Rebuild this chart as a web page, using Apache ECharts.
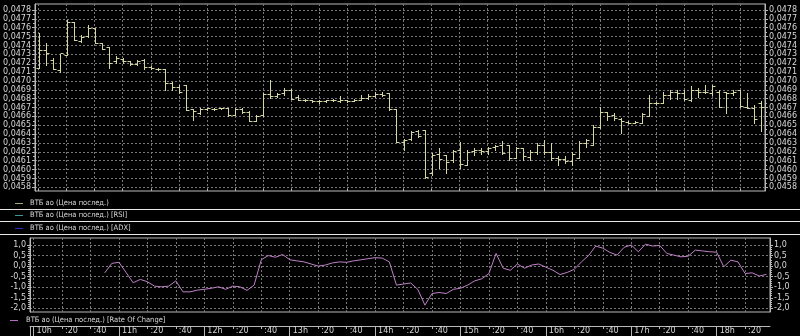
<!DOCTYPE html>
<html><head><meta charset="utf-8">
<script src="https://cdn.jsdelivr.net/npm/echarts@6/dist/echarts.min.js"></script>
<style>html,body{margin:0;padding:0;background:#000;}#c{width:800px;height:336px;}</style>
</head><body><div id="c"></div>
<script>
const times = ['10:00','10:05','10:10','10:15','10:20','10:25','10:30','10:35','10:40','10:45','10:50','10:55',
'11:00','11:05','11:10','11:15','11:20','11:25','11:30','11:35','11:40','11:45','11:50','11:55',
'12:00','12:05','12:10','12:15','12:20','12:25','12:30','12:35','12:40','12:45','12:50','12:55',
'13:00','13:05','13:10','13:15','13:20','13:25','13:30','13:35','13:40','13:45','13:50','13:55',
'14:00','14:05','14:10','14:15','14:20','14:25','14:30','14:35','14:40','14:45','14:50','14:55',
'15:00','15:05','15:10','15:15','15:20','15:25','15:30','15:35','15:40','15:45','15:50','15:55',
'16:00','16:05','16:10','16:15','16:20','16:25','16:30','16:35','16:40','16:45','16:50','16:55',
'17:00','17:05','17:10','17:15','17:20','17:25','17:30','17:35','17:40','17:45','17:50','17:55',
'18:00','18:05','18:10','18:15','18:20','18:25','18:30','18:35'];

const openP = [.04715,.04735,.04724,.04712,.04729,.04766,.04745,.04751,.04760,.04743,
.04738,.04722,.04725,.04722,.04719,.04724,.04716,.04714,.04713,.04698,
.04693,.04695,.04668,.04664,.04668,.04668,.04669,.04669,.04662,.04668,
.04665,.04655,.04661,.04685,.04683,.04686,.04690,.04682,.04679,.04678,
.04677,.04677,.04678,.04677,.04678,.04677,.04679,.04681,.04683,.04685,
.04686,.04668,.04631,.04634,.04643,.04645,.04596,.04618,.04617,.04611,
.04622,.04605,.04621,.04622,.04621,.04625,.04628,.04628,.04613,.04624,
.04614,.04620,.04628,.04620,.04613,.04612,.04610,.04613,.04630,.04628,
.04648,.04665,.04662,.04657,.04654,.04653,.04653,.04660,.04675,.04675,
.04684,.04687,.04686,.04678,.04690,.04688,.04686,.04688,.04688,.04686,
.04690,.04671,.04670,.04675];
const highP = [.04754,.04743,.04726,.04730,.04769,.04766,.04752,.04763,.04760,.04743,
.04738,.04728,.04726,.04722,.04724,.04725,.04717,.04715,.04713,.04699,
.04695,.04695,.04668,.04670,.04670,.04669,.04670,.04669,.04669,.04669,
.04666,.04662,.04686,.04701,.04686,.04692,.04691,.04684,.04680,.04679,
.04678,.04679,.04680,.04683,.04679,.04680,.04684,.04685,.04687,.04687,
.04686,.04668,.04634,.04644,.04645,.04645,.04619,.04624,.04617,.04622,
.04631,.04622,.04624,.04624,.04626,.04628,.04632,.04628,.04626,.04624,
.04622,.04630,.04633,.04630,.04615,.04615,.04620,.04632,.04635,.04650,
.04671,.04665,.04664,.04658,.04655,.04655,.04664,.04684,.04676,.04688,
.04690,.04690,.04690,.04694,.04692,.04695,.04695,.04690,.04688,.04690,
.04690,.04686,.04673,.04677];
const lowP = [.04715,.04718,.04713,.04710,.04729,.04746,.04744,.04749,.04743,.04736,
.04715,.04720,.04720,.04718,.04718,.04713,.04714,.04712,.04690,.04690,
.04686,.04667,.04656,.04663,.04667,.04667,.04668,.04660,.04661,.04664,
.04655,.04655,.04660,.04681,.04682,.04684,.04680,.04678,.04677,.04676,
.04675,.04676,.04677,.04676,.04676,.04677,.04678,.04680,.04682,.04683,
.04667,.04631,.04622,.04633,.04637,.04590,.04594,.04602,.04596,.04609,
.04602,.04605,.04617,.04618,.04618,.04622,.04618,.04611,.04613,.04611,
.04611,.04618,.04618,.04611,.04605,.04607,.04605,.04613,.04626,.04628,
.04647,.04656,.04656,.04641,.04652,.04652,.04652,.04660,.04674,.04675,
.04680,.04680,.04678,.04677,.04682,.04686,.04684,.04671,.04664,.04684,
.04671,.04669,.04652,.04643];
const closeP = [.04735,.04732,.04714,.04731,.04766,.04746,.04750,.04760,.04743,.04736,
.04720,.04726,.04722,.04719,.04723,.04716,.04715,.04713,.04698,.04693,
.04687,.04667,.04666,.04668,.04669,.04668,.04669,.04662,.04668,.04665,
.04655,.04660,.04685,.04683,.04685,.04690,.04680,.04679,.04678,.04677,
.04677,.04678,.04679,.04678,.04677,.04679,.04681,.04683,.04685,.04684,
.04668,.04631,.04633,.04642,.04638,.04592,.04617,.04612,.04608,.04621,
.04606,.04620,.04622,.04621,.04624,.04627,.04619,.04613,.04624,.04615,
.04620,.04628,.04620,.04613,.04612,.04610,.04618,.04630,.04633,.04648,
.04665,.04660,.04658,.04655,.04653,.04654,.04663,.04675,.04675,.04684,
.04687,.04686,.04680,.04690,.04688,.04687,.04694,.04671,.04686,.04688,
.04672,.04670,.04657,.04671];

const roc = [null,null,null,null,null,null,null,null,null,null,
-0.32,0.13,0.18,-0.30,-0.79,-0.63,-0.74,-0.95,-0.98,-0.95,
-0.70,-1.22,-1.22,-1.14,-1.10,-1.05,-0.98,-1.10,-0.95,-0.98,
-1.15,-0.90,0.30,0.50,0.42,0.55,0.30,0.25,0.20,0.10,
0.00,0.05,0.15,0.20,0.18,0.25,0.30,0.35,0.40,0.38,
0.20,-0.90,-0.85,-0.80,-1.10,-1.85,-1.30,-1.25,-1.30,-1.10,
-1.05,-0.90,-0.70,-0.60,-0.35,0.60,-0.10,-0.20,0.10,-0.10,
0.05,0.10,-0.05,-0.20,-0.40,-0.30,-0.15,0.20,0.50,0.95,
0.85,0.65,0.52,0.89,1.00,0.68,1.04,0.95,0.98,0.60,
0.52,0.44,0.47,0.76,0.72,0.68,0.66,-0.03,0.28,0.20,
-0.35,-0.32,-0.47,-0.39];

const priceTicks = [0.0458,0.0459,0.0460,0.0461,0.0462,0.0463,0.0464,0.0465,0.0466,0.0467,0.0468,
0.0469,0.0470,0.0471,0.0472,0.0473,0.0474,0.0475,0.0476,0.0477,0.0478];
const rocTicks = [-2.0,-1.5,-1.0,-0.5,0.0,0.5,1.0];
const lastPrice = 0.04671;
const lastPriceLabel = '0,0467';
const headers = ['ВТБ ао (Цена послед.)','ВТБ ао (Цена послед.) [RSI]','ВТБ ао (Цена послед.) [ADX]','ВТБ ао (Цена послед.) [Rate Of Change]'];

const PMIN = 0.0457583, PMAX = 0.0478677;
const RMIN = -2.175, RMAX = 1.332;
const priceMinor = priceTicks.slice(0,-1).map(v => +(v + 0.00005).toFixed(6));
const rocMinor = [];
for (let k = -20; k <= 10; k++) { if (k % 5 !== 0) rocMinor.push(k / 10); }

const FONT = 'DejaVu Sans';
const HFONT = '7.5px "DejaVu Sans Condensed", "DejaVu Sans"';
const LBL = '#d8d8d8';
const AX = '#b8b8b8';
const GRIDC = '#777';
const fmtP = v => v.toFixed(4).replace('.', ',');
const fmtR = v => v.toFixed(1).replace('.', ',');

const ohlc = times.map((t, i) => [i, openP[i], highP[i], lowP[i], closeP[i]]);

function yAx(grid, pos, min, max, ticks, fmt, split) {
  return {
    type: 'value', gridIndex: grid, position: pos, min: min, max: max, scale: true,
    axisLine: {show: true, onZero: false, lineStyle: {color: AX}},
    axisTick: {show: true, customValues: ticks, length: 3, lineStyle: {color: AX}},
    axisLabel: {show: true, customValues: ticks, formatter: fmt, color: LBL, fontSize: 8, fontFamily: FONT, margin: 4},
    splitLine: {show: split, lineStyle: {color: GRIDC, type: [2, 2], width: 1}}
  };
}
function yMinor(grid, pos, min, max, ticks) {
  return {
    type: 'value', gridIndex: grid, position: pos, min: min, max: max,
    axisLine: {show: false, onZero: false},
    axisTick: {show: true, customValues: ticks, length: 2, lineStyle: {color: AX}},
    axisLabel: {show: false},
    splitLine: {show: false}
  };
}
const vSplit = {show: true, interval: 3, alignWithLabel: true, lineStyle: {color: GRIDC, type: [2, 2], width: 1}};

const option = {
  backgroundColor: '#000',
  animation: false,
  grid: [
    {left: 30, right: 30, top: 4, height: 187, show: true, borderColor: AX, borderWidth: 1, backgroundColor: 'transparent'},
    {left: 30, right: 30, top: 238, height: 74, show: true, borderColor: AX, borderWidth: 1, backgroundColor: 'transparent'}
  ],
  xAxis: [
    {type: 'category', gridIndex: 0, data: times, boundaryGap: true,
     axisLine: {show: false, onZero: false}, axisTick: {show: true, inside: true, interval: 3, alignWithLabel: true, length: 2, lineStyle: {color: AX}},
     axisLabel: {show: false}, splitLine: vSplit},
    {type: 'category', gridIndex: 1, data: times, boundaryGap: true,
     axisLine: {show: false, onZero: false}, axisTick: {show: false}, axisLabel: {show: false}, splitLine: vSplit},
    {type: 'category', gridIndex: 1, data: times, boundaryGap: true, position: 'bottom', offset: 14,
     axisLine: {show: true, onZero: false, lineStyle: {color: AX}},
     axisTick: {show: true, interval: 3, alignWithLabel: true, length: 3, lineStyle: {color: AX}},
     axisLabel: {show: true, interval: 3, color: LBL, fontSize: 8, fontFamily: FONT, align: 'left', verticalAlign: 'middle', margin: 5, padding: [0, 0, 0, 3],
       formatter: v => { const p = v.split(':'); return p[1] === '00' ? (+p[0]) + 'h' : ':' + p[1]; }},
     splitLine: {show: false}},
    {type: 'category', gridIndex: 1, data: times, boundaryGap: true, position: 'bottom', offset: 14,
     axisLine: {show: false, onZero: false},
     axisTick: {show: true, interval: (idx, v) => v.endsWith(':00'), alignWithLabel: true, length: 10, lineStyle: {color: AX}},
     axisLabel: {show: false}, splitLine: {show: false}}
  ],
  yAxis: [
    yAx(0, 'left', PMIN, PMAX, priceTicks, fmtP, true),
    yAx(0, 'right', PMIN, PMAX, priceTicks, fmtP, false),
    yMinor(0, 'left', PMIN, PMAX, priceMinor),
    yMinor(0, 'right', PMIN, PMAX, priceMinor),
    yAx(1, 'left', RMIN, RMAX, rocTicks, fmtR, true),
    yAx(1, 'right', RMIN, RMAX, rocTicks, fmtR, false),
    yMinor(1, 'left', RMIN, RMAX, rocMinor),
    yMinor(1, 'right', RMIN, RMAX, rocMinor)
  ],
  series: [
    {
      type: 'custom', xAxisIndex: 0, yAxisIndex: 0, data: ohlc,
      encode: {x: 0, y: [1, 2, 3, 4]},
      renderItem: function (params, api) {
        const i = api.value(0);
        const o = api.coord([i, api.value(1)]);
        const h = api.coord([i, api.value(2)]);
        const l = api.coord([i, api.value(3)]);
        const c = api.coord([i, api.value(4)]);
        const x = Math.round(o[0]) + 0.5;
        const r = v => Math.round(v) + 0.5;
        const st = {stroke: '#d6d6a0', lineWidth: 1};
        return {type: 'group', children: [
          {type: 'line', shape: {x1: x, y1: r(h[1]) - 0.5, x2: x, y2: r(l[1]) + 0.5}, style: st},
          {type: 'line', shape: {x1: x - 3, y1: r(o[1]), x2: x, y2: r(o[1])}, style: st},
          {type: 'line', shape: {x1: x, y1: r(c[1]), x2: x + 3, y2: r(c[1])}, style: st}
        ]};
      },
      markLine: {
        silent: true, symbol: ['none', 'none'], animation: false,
        data: [{yAxis: lastPrice}],
        lineStyle: {opacity: 0},
        label: {show: true, position: 'end', formatter: lastPriceLabel, color: '#fff', fontSize: 8, fontFamily: FONT,
          backgroundColor: '#000', borderColor: '#e0e0e0', borderWidth: 1, padding: [1, 1, 0, 1], distance: 2}
      }
    },
    {
      type: 'line', xAxisIndex: 1, yAxisIndex: 4, data: roc, symbol: 'none', connectNulls: false,
      lineStyle: {color: '#c080c8', width: 1}, itemStyle: {color: '#c080c8'}
    }
  ],
  graphic: [
    {type: 'line', shape: {x1: 15, y1: 203.5, x2: 23, y2: 203.5}, style: {stroke: '#a8a878', lineWidth: 1}},
    {type: 'text', x: 30, y: 203, style: {text: headers[0], fill: LBL, font: HFONT, verticalAlign: 'middle'}},
    {type: 'line', shape: {x1: 0, y1: 209.5, x2: 800, y2: 209.5}, style: {stroke: '#e8e8e8', lineWidth: 1}},
    {type: 'line', shape: {x1: 15, y1: 215.5, x2: 23, y2: 215.5}, style: {stroke: '#3a9a9a', lineWidth: 1}},
    {type: 'text', x: 30, y: 215, style: {text: headers[1], fill: LBL, font: HFONT, verticalAlign: 'middle'}},
    {type: 'line', shape: {x1: 0, y1: 221.5, x2: 800, y2: 221.5}, style: {stroke: '#e8e8e8', lineWidth: 1}},
    {type: 'line', shape: {x1: 15, y1: 228.5, x2: 23, y2: 228.5}, style: {stroke: '#2a2ad0', lineWidth: 1}},
    {type: 'text', x: 30, y: 228, style: {text: headers[2], fill: LBL, font: HFONT, verticalAlign: 'middle'}},
    {type: 'line', shape: {x1: 0, y1: 234.5, x2: 800, y2: 234.5}, style: {stroke: '#e8e8e8', lineWidth: 1}},
    {type: 'line', shape: {x1: 10, y1: 320.5, x2: 18, y2: 320.5}, style: {stroke: '#b070c0', lineWidth: 1}},
    {type: 'text', x: 26, y: 320, style: {text: headers[3], fill: LBL, font: HFONT, verticalAlign: 'middle'}},
    {type: 'line', shape: {x1: 30.5, y1: 326, x2: 30.5, y2: 336}, style: {stroke: AX, lineWidth: 1}}
  ]
};
echarts.init(document.getElementById('c'), null, {renderer: 'canvas'}).setOption(option);
</script></body></html>
